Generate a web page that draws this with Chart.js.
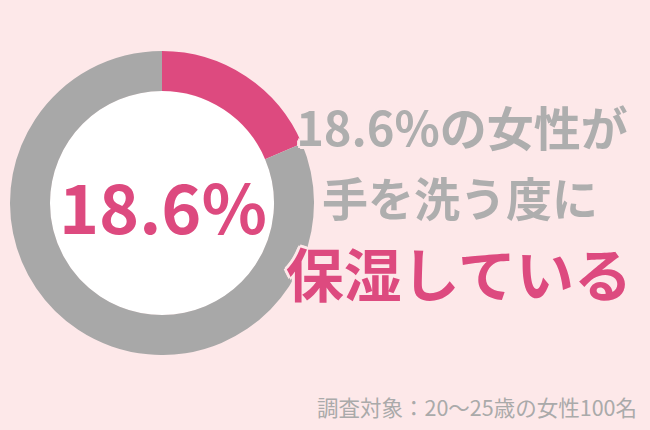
<!DOCTYPE html>
<html><head><meta charset="utf-8">
<script src="https://cdn.jsdelivr.net/npm/chart.js@4"></script>
<style>
html,body{margin:0;padding:0;}
body{width:650px;height:430px;background:#fde8e9;position:relative;overflow:hidden;font-family:"Noto Sans CJK JP","Noto Sans",sans-serif;}
#wrap{position:absolute;left:10px;top:51px;width:304px;height:304px;}
.t{position:absolute;white-space:nowrap;font-weight:700;}
.halo{text-shadow:0 0 0 #fde8e9,3px 0 0 #fde8e9,-3px 0 0 #fde8e9,0 3px 0 #fde8e9,0 -3px 0 #fde8e9,2px 2px 0 #fde8e9,-2px 2px 0 #fde8e9,2px -2px 0 #fde8e9,-2px -2px 0 #fde8e9;}
</style></head>
<body>
<div id="wrap"><canvas id="c"></canvas></div>
<div id="center" class="t" style="left:59px;top:160px;width:200px;text-align:center;font-size:68px;line-height:90px;color:#dd4a7f;"></div>
<div id="l1" class="t halo" style="left:262px;top:96px;width:400px;text-align:center;font-size:47px;line-height:60px;color:#aeaeae;"></div>
<div id="l2" class="t halo" style="left:260px;top:166px;width:400px;text-align:center;font-size:46px;line-height:60px;color:#aeaeae;"></div>
<div id="l3" class="t halo" style="left:259px;top:234px;width:400px;text-align:center;font-size:58px;line-height:76px;color:#dd4a7f;"></div>
<div id="note" style="position:absolute;right:13px;top:392px;font-size:21.5px;line-height:30px;color:#aaaaaa;white-space:nowrap;"></div>
<script>
const categories = ['保湿している', '保湿していない'];
const values = [18.6, 81.4];
const colors = ['#dd4a7f', '#a8a8a8'];
const centerLabel = '18.6%';
const headline = ['18.6%の女性が', '手を洗う度に', '保湿している'];
const note = '調査対象：20〜25歳の女性100名';

document.getElementById('center').textContent = centerLabel;
document.getElementById('l1').textContent = headline[0];
document.getElementById('l2').textContent = headline[1];
document.getElementById('l3').textContent = headline[2];
document.getElementById('note').textContent = note;

const innerFill = {
  id: 'innerFill',
  beforeDatasetsDraw(chart) {
    const meta = chart.getDatasetMeta(0);
    const arc = meta.data[0];
    if (!arc) return;
    const ctx = chart.ctx;
    ctx.save();
    ctx.beginPath();
    ctx.arc(arc.x, arc.y, arc.innerRadius, 0, Math.PI * 2);
    ctx.fillStyle = '#ffffff';
    ctx.fill();
    ctx.restore();
  }
};

new Chart(document.getElementById('c'), {
  type: 'doughnut',
  data: {
    labels: categories,
    datasets: [{ data: values, backgroundColor: colors, borderWidth: 0, hoverOffset: 0 }]
  },
  options: {
    responsive: true,
    maintainAspectRatio: false,
    animation: false,
    cutout: '73.7%',
    layout: { padding: 0 },
    plugins: { legend: { display: false }, tooltip: { enabled: false } },
    events: []
  },
  plugins: [innerFill]
});
</script>
</body></html>
